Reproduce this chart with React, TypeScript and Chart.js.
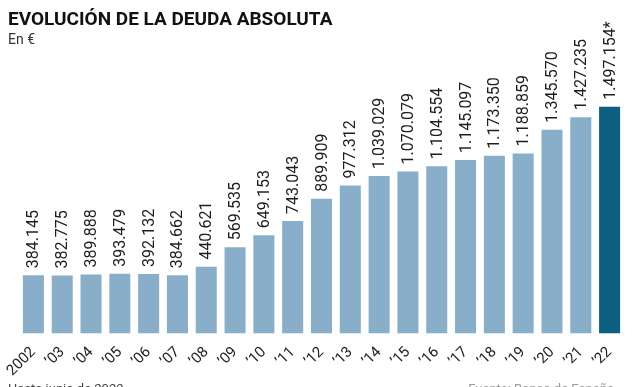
import React, { useEffect, useRef } from "react";
import { Chart, registerables } from "chart.js";

Chart.register(...registerables);

const categories = ["2002", "’03", "’04", "’05", "’06", "’07", "’08", "’09", "’10", "’11", "’12", "’13", "’14", "’15", "’16", "’17", "’18", "’19", "’20", "’21", "’22"];
const debtValues = [384145, 382775, 389888, 393479, 392132, 384662, 440621, 569535, 649153, 743043, 889909, 977312, 1039029, 1070079, 1104554, 1145097, 1173350, 1188859, 1345570, 1427235, 1497154];
const labelNotes = ["", "", "", "", "", "", "", "", "", "", "", "", "", "", "", "", "", "", "", "", "*"];
const highlightIndex = 20;

const LIGHT = "#89aeca";
const DARK = "#0c5f80";
const FONT = "Roboto, 'Liberation Sans', Arial, sans-serif";

function fmt(v: number): string {
  return String(v).replace(/\B(?=(\d{3})+(?!\d))/g, ".");
}

const valueLabelPlugin = {
  id: "valueLabels",
  afterDatasetsDraw(chart: any) {
    const ctx = chart.ctx;
    const meta = chart.getDatasetMeta(0);
    ctx.save();
    ctx.font = `16px ${FONT}`;
    ctx.fillStyle = "#1e1e1e";
    ctx.textAlign = "left";
    ctx.textBaseline = "middle";
    meta.data.forEach((bar: any, i: number) => {
      const text = fmt(debtValues[i]) + labelNotes[i];
      ctx.save();
      ctx.translate(bar.x + 1, bar.y - 7);
      ctx.rotate(-Math.PI / 2);
      ctx.fillText(text, 0, 0);
      ctx.restore();
    });
    ctx.restore();
  },
};

export default function App() {
  const ref = useRef<HTMLCanvasElement | null>(null);
  useEffect(() => {
    if (!ref.current) return;
    const chart = new Chart(ref.current, {
      type: "bar",
      data: {
        labels: categories,
        datasets: [
          {
            data: debtValues,
            backgroundColor: debtValues.map((_, i) => (i === highlightIndex ? DARK : LIGHT)),
            categoryPercentage: 1,
            barPercentage: 0.73,
            borderWidth: 0,
          },
        ],
      },
      options: {
        animation: false,
        responsive: false,
        devicePixelRatio: 1,
        layout: { padding: { left: 19, right: 14, top: 76, bottom: 5 } },
        plugins: { legend: { display: false }, tooltip: { enabled: false }, title: { display: false } },
        scales: {
          x: {
            grid: { display: false },
            border: { display: false },
            ticks: {
              autoSkip: false,
              maxRotation: 45,
              minRotation: 45,
              color: "#1e1e1e",
              font: { family: FONT, size: 15 },
              padding: 2,
            },
          },
          y: { display: false, min: 0, max: 1700000 },
        },
      },
      plugins: [valueLabelPlugin],
    });
    return () => chart.destroy();
  }, []);

  return (
    <div style={{ position: "fixed", left: 0, top: 0, width: 638, height: 387, overflow: "hidden", background: "#fff" }}>
      <canvas ref={ref} width={638} height={387} style={{ position: "absolute", left: 0, top: 0 }} />
      <div style={{ position: "absolute", left: 8, top: 8, fontFamily: FONT, fontWeight: 700, fontSize: 19, color: "#111", lineHeight: "22px", whiteSpace: "nowrap" }}>
        EVOLUCIÓN DE LA DEUDA ABSOLUTA
      </div>
      <div style={{ position: "absolute", left: 8, top: 31, fontFamily: FONT, fontSize: 14, color: "#333", lineHeight: "16px" }}>
        En €
      </div>
      <div style={{ position: "absolute", left: 8, top: 381, fontFamily: FONT, fontSize: 13, color: "#444", lineHeight: "16px", whiteSpace: "nowrap" }}>
        Hasta junio de 2022
      </div>
      <div style={{ position: "absolute", right: 24, top: 381, fontFamily: FONT, fontSize: 13, color: "#999", lineHeight: "16px", whiteSpace: "nowrap" }}>
        Fuente: Banco de España
      </div>
    </div>
  );
}
